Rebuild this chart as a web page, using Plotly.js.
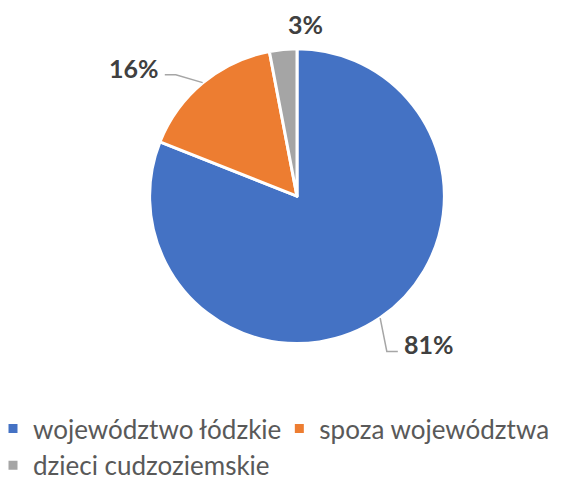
<!DOCTYPE html>
<html>
<head>
<meta charset="utf-8">
<script src="https://cdn.plot.ly/plotly-3.0.1.min.js"></script>
<style>html,body{margin:0;padding:0;background:#fff}#chart{width:572px;height:489px}</style>
</head>
<body>
<div id="chart"></div>
<script>
const categories = ["województwo łódzkie", "spoza województwa", "dzieci cudzoziemskie"];
const values = [81, 16, 3];
const labelTexts = ["81%", "16%", "3%"];

const colors = ["#4472C4", "#ED7D31", "#A5A5A5"];
const W = 572, H = 489;
const cx = 297, cy = 197, R = 148;           // pie geometry in px (style)
// label placement: radial factor, horizontal nudge, vertical nudge, leader line flag
const labelStyle = [
  {k: 1.20, dx: 5, dy: 2, anchor: "left", leader: true},
  {k: 1.20, dx: -23, dy: 8, anchor: "right", leader: true},
  {k: 1.20, dx: 6, dy: 4, anchor: "left", leader: false}
];

const px = x => x / W, py = y => 1 - y / H;
const total = values.reduce((a, b) => a + b, 0);

const annotations = [], shapes = [];
let cum = 0;
values.forEach((v, i) => {
  const mid = (cum + v / 2) / total * 2 * Math.PI; cum += v;
  const sx = Math.sin(mid), sy = -Math.cos(mid);
  const st = labelStyle[i];
  const ex = cx + R * sx, ey = cy + R * sy;
  const lx = cx + R * st.k * sx + st.dx, ly = cy + R * st.k * sy + st.dy;
  annotations.push({
    xref: "paper", yref: "paper", x: px(lx), y: py(ly),
    xanchor: st.anchor, yanchor: "middle", showarrow: false,
    text: "<b>" + labelTexts[i] + "</b>",
    font: {family: "Lato, 'Open Sans', sans-serif", size: 25, color: "#404040"}
  });
  if (st.leader) {
    const sgn = st.anchor === "left" ? 1 : -1;
    const bx = lx - sgn * 4, by = ly + 7;       // end near label
    const kx = bx - sgn * 11;                   // elbow
    shapes.push({
      type: "path", xref: "paper", yref: "paper",
      path: `M${px(ex)},${py(ey)} L${px(kx)},${py(by)} L${px(bx)},${py(by)}`,
      line: {color: "#A6A6A6", width: 1.5}
    });
  }
});

const trace = {
  type: "pie",
  labels: categories,
  values: values,
  sort: false,
  direction: "clockwise",
  rotation: 0,
  textinfo: "none",
  marker: {colors: colors, line: {color: "#FFFFFF", width: 3}},
  domain: {x: [px(cx - R), px(cx + R)], y: [py(cy + R), py(cy - R)]},
  hoverinfo: "label+percent"
};

const layout = {
  width: W, height: H,
  margin: {l: 0, r: 0, t: 0, b: 0},
  paper_bgcolor: "#fff",
  showlegend: true,
  legend: {
    orientation: "h", x: 0, xanchor: "left", y: py(407), yanchor: "top",
    font: {family: "Lato, 'Open Sans', sans-serif", size: 26, color: "#595959"},
    traceorder: "normal", itemwidth: 30, indentation: -7
  },
  annotations: annotations,
  shapes: shapes
};

Plotly.newPlot("chart", [trace], layout, {displayModeBar: false, staticPlot: true});
</script>
</body>
</html>
